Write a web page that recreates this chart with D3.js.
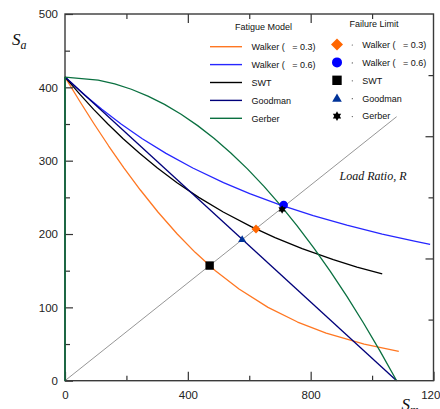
<!DOCTYPE html>
<html><head><meta charset="utf-8">
<script src="https://cdn.jsdelivr.net/npm/d3@7"></script>
<style>
html,body{margin:0;padding:0;background:#fff;overflow:hidden}
svg{display:block}
</style></head>
<body>
<svg id="chart" width="440" height="409"></svg>
<script>
// ---- data ----
const xTickLabels = [0, 400, 800, 1200];
const yTickLabels = [0, 100, 200, 300, 400, 500];

const walker03Sm = [0, 49.5, 94.9, 142.3, 192.3, 245.4, 302.6, 365.5, 423.8, 489.7, 566.7, 661.1, 757.4, 850.4, 974.3, 1087];
const walker03Sa = [414, 380, 350, 320, 290, 260, 230, 200, 175, 150, 125, 100, 80, 65, 50, 40];

const walker06Sm = [0, 62.8, 120.0, 182.6, 251.7, 328.9, 416.2, 516.1, 601.4, 698.0, 808.3, 917.8, 1033.0, 1141.6, 1189];
const walker06Sa = [414, 390, 370, 350, 330, 310, 290, 270, 255, 240, 225, 212, 200, 190, 186];

const swtSm = [0, 49.5, 93.2, 139.7, 189.4, 242.9, 301.0, 364.8, 435.6, 515.2, 606.2, 684.0, 772.2, 873.8, 950.8, 1033];
const swtSa = [414, 390, 370, 350, 330, 310, 290, 270, 250, 230, 210, 195, 180, 165, 155, 145.5];

const goodmanSm = [0, 1080];
const goodmanSa = [414, 0];

const gerberSm = [0, 0, 108, 162, 216, 270, 324, 378, 432, 486, 540, 594, 648, 702, 756, 810, 864, 918, 972, 1026, 1080];
const gerberSa = [0, 414, 409.9, 404.7, 397.4, 388.1, 376.7, 363.3, 347.8, 330.2, 310.5, 288.8, 265.0, 239.1, 211.1, 181.1, 149.0, 114.9, 78.7, 40.4, 0];

const loadRatioSm = [0, 1080];
const loadRatioSa = [0, 360];

const modelNames = ["Walker (   = 0.3)", "Walker (   = 0.6)", "SWT", "Goodman", "Gerber"];
const modelColors = ["#ff7722", "#2626ff", "#000000", "#00007a", "#0a7040"];

const limitNames = ["Walker (   = 0.3)", "Walker (   = 0.6)", "SWT", "Goodman", "Gerber"];
const limitSm = [622, 712, 471, 577, 707];
const limitSa = [207, 239.5, 157, 193, 233.5];
const limitColors = ["#ff6600", "#0000ff", "#000000", "#003399", "#000000"];
const limitShapes = ["diamond", "circle", "square", "triangle", "star"];

// ---- layout ----
const svg = d3.select("#chart");
const L = 65, R = 433.5, T = 14, B = 380.7;
const x = d3.scaleLinear().domain([0, 1200]).range([L, R]);
const y = d3.scaleLinear().domain([0, 500]).range([B, T]);
const yRight = d3.scaleLinear().domain([0, 1200]).range([B, T]);

const font = "'Liberation Sans', Arial, sans-serif";
const serif = "'Liberation Serif', 'Times New Roman', serif";

// curves
const line = d3.line().x(d => x(d[0])).y(d => y(d[1]));
const zip = (a, b) => a.map((v, i) => [v, b[i]]);

svg.append("path").datum(zip(loadRatioSm, loadRatioSa)).attr("d", line)
  .attr("fill", "none").attr("stroke", "#8a8a8a").attr("stroke-width", 0.9);

const series = [
  [walker03Sm, walker03Sa],
  [walker06Sm, walker06Sa],
  [swtSm, swtSa],
  [goodmanSm, goodmanSa],
  [gerberSm, gerberSa]
];
series.forEach((s, i) => {
  svg.append("path").datum(zip(s[0], s[1])).attr("d", line)
    .attr("fill", "none").attr("stroke", modelColors[i]).attr("stroke-width", 1.3)
    .attr("stroke-linejoin", "round");
});

// axes ticks
function tickAxis(axis, tx, ty) {
  const g = svg.append("g").attr("transform", `translate(${tx},${ty})`).call(axis);
  g.select(".domain").remove();
  g.selectAll("line").attr("stroke", "#333").attr("stroke-width", 1.2);
  g.selectAll("text").attr("font-family", font).attr("font-size", 11.5).attr("fill", "#222");
  return g;
}
tickAxis(d3.axisBottom(x).tickValues(xTickLabels).tickSize(-9).tickPadding(10).tickFormat(d3.format("d")), 0, B);
tickAxis(d3.axisBottom(x).tickValues([200, 600, 1000]).tickSize(-5).tickFormat(""), 0, B);
tickAxis(d3.axisTop(x).tickValues([400, 800]).tickSize(-9).tickFormat(""), 0, T);
tickAxis(d3.axisTop(x).tickValues([200, 600, 1000]).tickSize(-5).tickFormat(""), 0, T);
tickAxis(d3.axisLeft(y).tickValues(yTickLabels).tickSize(-8).tickPadding(7).tickFormat(d3.format("d")), L, 0);
tickAxis(d3.axisLeft(y).tickValues([50, 150, 250, 350, 450]).tickSize(-5).tickFormat(""), L, 0);
tickAxis(d3.axisRight(yRight).tickValues([400, 800]).tickSize(-8).tickFormat(""), R, 0);
tickAxis(d3.axisRight(yRight).tickValues([200, 600, 1000]).tickSize(-5).tickFormat(""), R, 0);

// frame
svg.append("rect").attr("x", L).attr("y", T).attr("width", R - L).attr("height", B - T)
  .attr("fill", "none").attr("stroke", "#3a3a3a").attr("stroke-width", 1.4);
// redraw the green part along the left spine (Gerber vertical segment)
svg.append("path").datum(zip(gerberSm.slice(0, 2), gerberSa.slice(0, 2))).attr("d", line)
  .attr("fill", "none").attr("stroke", modelColors[4]).attr("stroke-width", 1.3);

// marker shapes
function shapePath(shape, s) {
  switch (shape) {
    case "diamond": return `M0,${-s}L${s},0L0,${s}L${-s},0Z`;
    case "square": return `M${-s},${-s}H${s}V${s}H${-s}Z`;
    case "triangle": return `M0,${-s}L${s * 1.05},${s * 0.75}L${-s * 1.05},${s * 0.75}Z`;
    case "star": {
      const pts = [];
      for (let k = 0; k < 12; k++) {
        const a = -Math.PI / 2 + k * Math.PI / 6;
        const r = k % 2 === 0 ? s : s * 0.58;
        pts.push([r * Math.cos(a), r * Math.sin(a)]);
      }
      return "M" + pts.map(p => p[0].toFixed(2) + "," + p[1].toFixed(2)).join("L") + "Z";
    }
  }
}
function addMarker(g, shape, s, color, cx, cy) {
  if (shape === "circle") {
    g.append("circle").attr("cx", cx).attr("cy", cy).attr("r", s).attr("fill", color);
  } else {
    g.append("path").attr("d", shapePath(shape, s)).attr("transform", `translate(${cx},${cy})`).attr("fill", color);
  }
}

// failure limit points on the chart
const ptSizes = { diamond: 4.5, circle: 4.3, square: 4.2, triangle: 3.8, star: 4.2 };
const mg = svg.append("g");
limitNames.forEach((n, i) => {
  addMarker(mg, limitShapes[i], ptSizes[limitShapes[i]], limitColors[i], x(limitSm[i]), y(limitSa[i]));
});

// legend: fatigue model
const lg = svg.append("g").attr("font-family", font).attr("font-size", 9).attr("fill", "#111");
lg.append("text").attr("x", 263.5).attr("y", 30).attr("text-anchor", "middle").text("Fatigue Model");
modelNames.forEach((n, i) => {
  const ry = 46.7 + i * 17.9;
  lg.append("line").attr("x1", 210).attr("x2", 242).attr("y1", ry).attr("y2", ry)
    .attr("stroke", modelColors[i]).attr("stroke-width", 1.4);
  lg.append("text").attr("x", 251.5).attr("y", ry + 3.3).style("white-space", "pre").text(n);
});
lg.append("text").attr("x", 374).attr("y", 27.3).attr("text-anchor", "middle").text("Failure Limit");
const legSizes = { diamond: 6, circle: 5, square: 4.7, triangle: 4.6, star: 4.8 };
limitNames.forEach((n, i) => {
  const ry = 44.5 + i * 17.9;
  addMarker(lg, limitShapes[i], legSizes[limitShapes[i]], limitColors[i], 337, ry);
  lg.append("circle").attr("cx", 352.3).attr("cy", ry + 0.5).attr("r", 0.6).attr("fill", "#444");
  lg.append("text").attr("x", 362.3).attr("y", ry + 3.3).style("white-space", "pre").text(n);
});

// annotation
svg.append("text").attr("x", 339.5).attr("y", 179.5).attr("font-family", serif)
  .attr("font-style", "italic").attr("font-size", 12).attr("fill", "#111").text("Load Ratio, R");

// axis titles
const ya = svg.append("text").attr("x", 12).attr("y", 45).attr("font-family", serif)
  .attr("font-style", "italic").attr("font-size", 17).attr("fill", "#111");
ya.append("tspan").text("S");
ya.append("tspan").attr("font-size", 12).attr("dy", 4).text("a");
const xa = svg.append("text").attr("x", 401.5).attr("y", 410).attr("font-family", serif)
  .attr("font-style", "italic").attr("font-size", 17).attr("fill", "#111");
xa.append("tspan").text("S");
xa.append("tspan").attr("font-size", 12).attr("dy", 4).text("m");
</script>
</body></html>
